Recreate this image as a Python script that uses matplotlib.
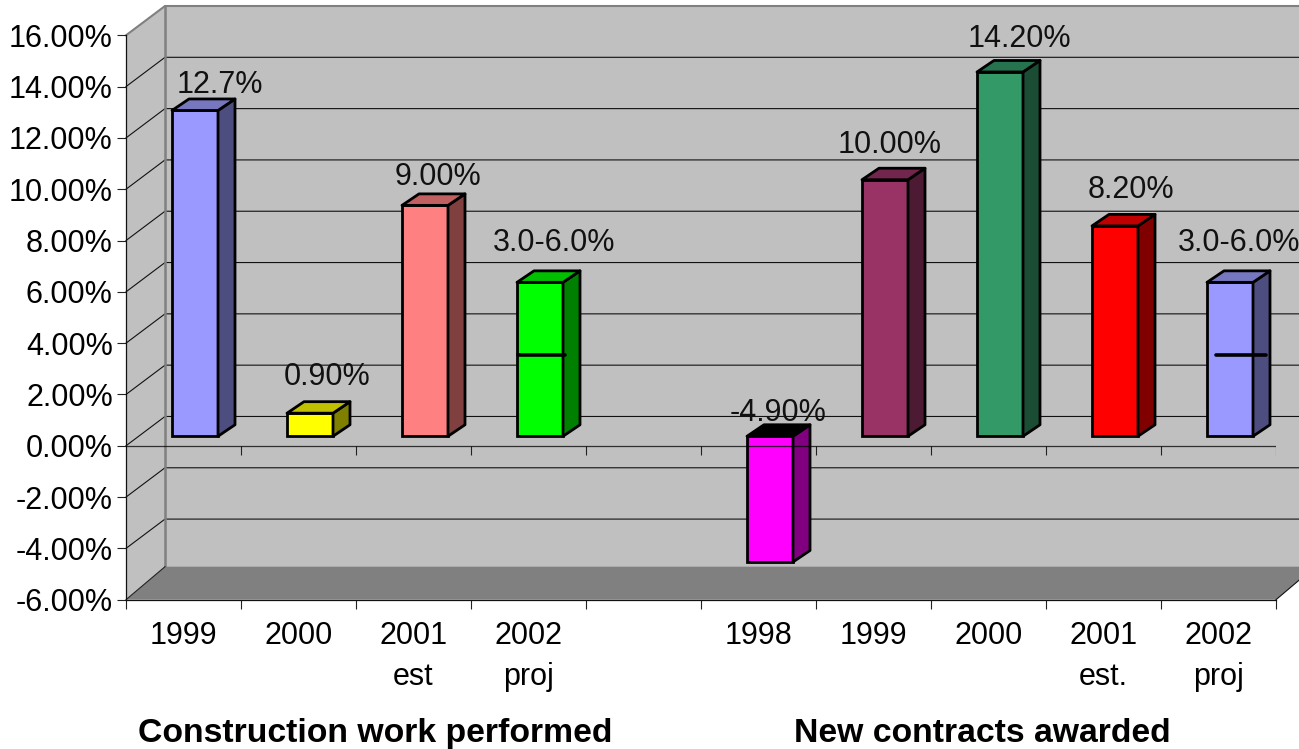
import matplotlib
matplotlib.use("Agg")
import matplotlib.pyplot as plt
import numpy as np
from matplotlib.patches import Polygon
from matplotlib.ticker import FuncFormatter

plt.rcParams["font.family"] = ["Liberation Sans", "DejaVu Sans"]

# chart values
slots = [0, 1, 2, 3, 5, 6, 7, 8, 9]
values = [12.7, 0.9, 9.0, 6.0, -4.9, 10.0, 14.2, 8.2, 6.0]
bar_labels = ["12.7%", "0.90%", "9.00%", "3.0-6.0%", "-4.90%", "10.00%", "14.20%", "8.20%", "3.0-6.0%"]
front_colors = ["#9999FF", "#FFFF00", "#FF8080", "#00FF00", "#FF00FF", "#993366", "#339966", "#FF0000", "#9999FF"]
side_colors = ["#4D4D80", "#808000", "#804040", "#008000", "#800080", "#4D1A33", "#1A4D33", "#800000", "#4D4D80"]
top_colors = ["#7777C0", "#C0C000", "#C06060", "#00C000", "#000000", "#73264D", "#267350", "#C00000", "#7777C0"]
tick_labels = ["1999", "2000", "2001\nest", "2002\nproj", "", "1998", "1999", "2000", "2001\nest.", "2002\nproj"]
groups = ["Construction work performed", "New contracts awarded"]
range_low = [(3, 3.0), (8, 3.0)]

# label nudges in pixels, hand placed in the original
label_dx = [25, 17, 13, 14, 8, 5, 19, 16, 9]
label_dy = [14, 25, 17, 28, 12, 23, 21, 24, 28]

fig = plt.figure(figsize=(12.99, 7.49), dpi=100)
ax = fig.add_axes([126 / 1299, (749 - 599.7) / 749, 1150 / 1299, 564.4 / 749])
ax.set_xlim(0, 10)
ax.set_ylim(-6, 16)
ax.patch.set_visible(False)

px = 10 / 1150
py = 22 / 564.4

wall_dx, wall_dy = 39 * px, 29.3 * py
floor_dy = 33 * py
xmax = 10 + wall_dx
grid_vals = np.arange(-6, 17, 2)

# walls and floor
ax.add_patch(Polygon([(wall_dx, -6 + floor_dy), (xmax, -6 + floor_dy), (xmax, 16 + wall_dy), (wall_dx, 16 + wall_dy)],
                     fc="#C0C0C0", ec="none", clip_on=False, zorder=0))
ax.add_patch(Polygon([(0, -6), (wall_dx, -6 + floor_dy), (wall_dx, 16 + wall_dy), (0, 16)],
                     fc="#C0C0C0", ec="none", clip_on=False, zorder=0))
ax.add_patch(Polygon([(0, -6), (wall_dx, -6 + floor_dy), (xmax, -6 + floor_dy), (10, -6)],
                     fc="#808080", ec="none", clip_on=False, zorder=1.5))

for v in grid_vals[1:-1]:
    ax.plot([0, wall_dx, xmax], [v, v + wall_dy, v + wall_dy], color="#111111", lw=0.8, clip_on=False, zorder=1)

ax.plot([0, wall_dx, xmax], [16, 16 + wall_dy, 16 + wall_dy], color="#808080", lw=1.5, clip_on=False, zorder=1)
ax.plot([wall_dx, wall_dx], [-6 + floor_dy, 16 + wall_dy], color="#808080", lw=1.8, clip_on=False, zorder=1.2)
ax.plot([0, wall_dx], [-6, -6 + floor_dy], color="#222222", lw=0.8, clip_on=False, zorder=1.6)
ax.plot([10, xmax], [-6, -6 + floor_dy], color="#111111", lw=0.8, clip_on=False, zorder=1.6)

# zero axis with its ticks
ax.vlines(np.arange(1, 11), -9 * py, 0, color="#222222", lw=0.8, zorder=2)
ax.plot([0, 10], [0, 0], color="black", lw=0.9, alpha=0.75, zorder=4)

# bars
base = 9.5 * py
bar_w = 46 * px
depth_x, depth_y = 17 * px, 11.5 * py
centers = np.array(slots) + 0.5 + 11.5 * px

ax.bar(centers, values, width=bar_w, bottom=base, color=front_colors, edgecolor="black", lw=2, zorder=3, clip_on=False)

for c, v, side, top in zip(centers, values, side_colors, top_colors):
    left, right = c - bar_w / 2, c + bar_w / 2
    y0, y1 = base, base + v
    high = max(y0, y1)
    low = min(y0, y1)
    ax.add_patch(Polygon([(right, low), (right + depth_x, low + depth_y), (right + depth_x, high + depth_y), (right, high)],
                         fc=side, ec="black", lw=2, joinstyle="round", zorder=3, clip_on=False))
    ax.add_patch(Polygon([(left, high), (left + depth_x, high + depth_y), (right + depth_x, high + depth_y), (right, high)],
                         fc=top, ec="black", lw=2, joinstyle="round", zorder=3, clip_on=False))

# low end of the projected range
for i, low in range_low:
    c = centers[i]
    ax.plot([c - 14 * px, c + 36 * px] if i == 8 else [c - 22 * px, c + 25 * px],
            [base + low + 4 * py] * 2, color="black", lw=2.6, solid_capstyle="round", zorder=4, clip_on=False)

for c, v, text, dx, dy in zip(centers, values, bar_labels, label_dx, label_dy):
    ax.text(c + dx * px, base + max(v, 0) + depth_y + dy * py, text, ha="center", va="center", fontsize=22,
            color="#111111", zorder=6, clip_on=False)

# axes
ax.set_yticks(grid_vals)
ax.yaxis.set_major_formatter(FuncFormatter(lambda v, _: f"{v:.2f}%"))
ax.set_xticks(np.arange(0, 11))
ax.set_xticklabels([])
ax.set_xticks(np.arange(10) + 0.5, minor=True)
ax.set_xticklabels(tick_labels, minor=True, linespacing=1.5)
ax.tick_params(axis="y", length=6.5, width=0.8, color="#222222", pad=3, labelsize=22)
ax.tick_params(axis="x", which="major", length=6.5, width=0.8, color="#222222")
ax.tick_params(axis="x", which="minor", length=0, pad=15, labelsize=22)
for name in ["top", "right"]:
    ax.spines[name].set_visible(False)
for name in ["left", "bottom"]:
    ax.spines[name].set_linewidth(0.9)
    ax.spines[name].set_color("#111111")
    ax.spines[name].set_zorder(2)

ax.text(2.17, -6 - 134 * py, groups[0], ha="center", va="center", fontsize=24.3, fontweight="bold", clip_on=False)
ax.text(7.45, -6 - 134 * py, groups[1], ha="center", va="center", fontsize=24.3, fontweight="bold", clip_on=False)

fig.savefig("out.png", dpi=100, facecolor="white")
